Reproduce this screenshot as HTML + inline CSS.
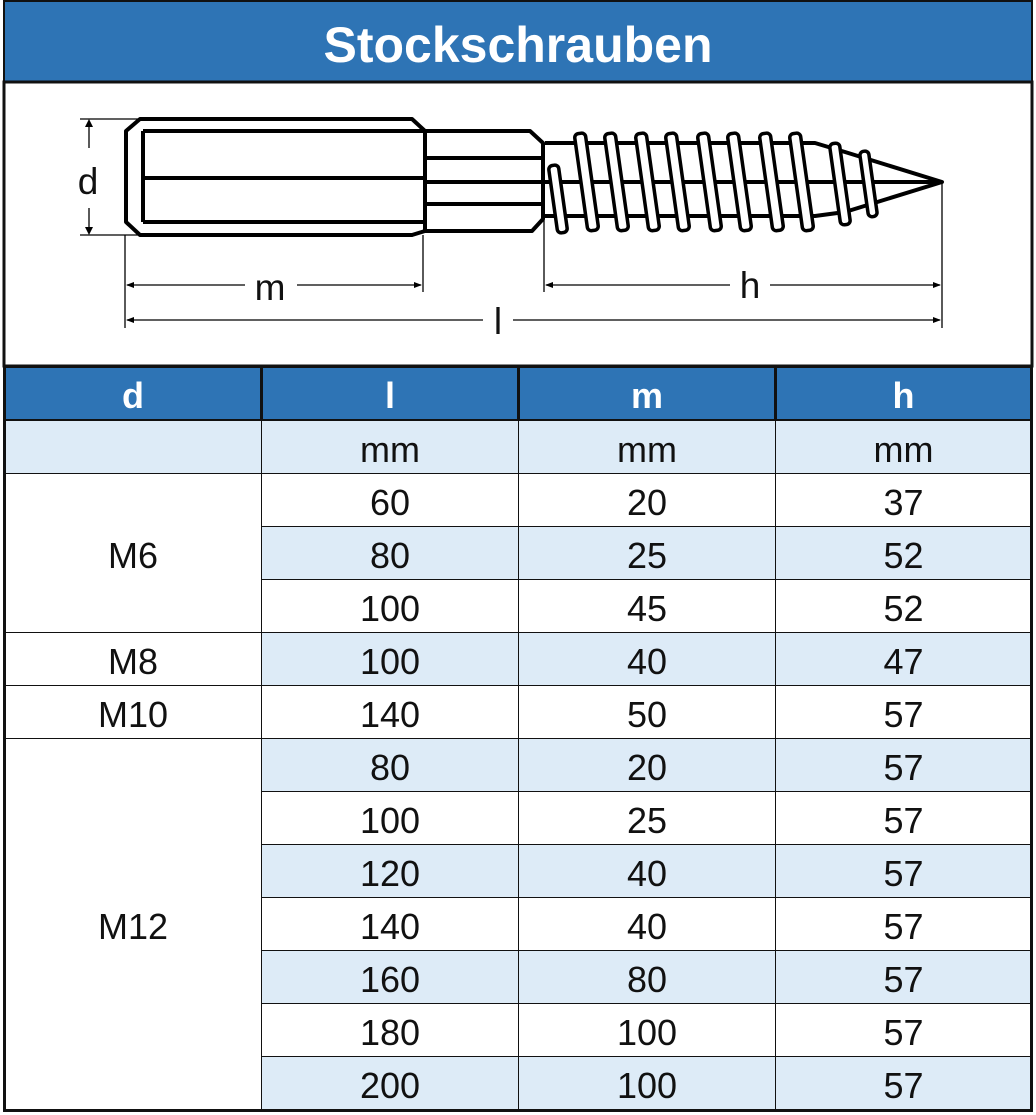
<!DOCTYPE html>
<html><head><meta charset="utf-8"><style>
body{margin:0;width:1036px;height:1115px;background:#fff;position:relative;font-family:"Liberation Sans",Arial,sans-serif;overflow:hidden}
.c{position:absolute;box-sizing:border-box;display:flex;align-items:center;justify-content:center;font-size:36px;color:#111;padding-top:5px}
</style></head><body>
<div class="c" style="left:3px;top:0;width:1030px;height:83px;background:#2E74B5;color:#fff;font-weight:bold;font-size:50px;border:2px solid #111;padding-top:6px">Stockschrauben</div>
<svg style="position:absolute;left:0;top:0" width="1036" height="1115">
<rect x="4" y="82" width="1028" height="284" fill="#fff" stroke="#111" stroke-width="3"/>
<g fill="none" stroke="#000" stroke-width="4" stroke-linejoin="round">
<path d="M140 119 H412 L425 131 V231 L412 235 H140 L126 222 V131 Z"/>
<line x1="143" y1="131" x2="143" y2="222"/>
<line x1="143" y1="131" x2="425" y2="131"/><line x1="143" y1="178" x2="425" y2="178"/><line x1="143" y1="222" x2="425" y2="222"/>
<path d="M425 131 H530 L543 143 V219 L532 231 H425"/>
<line x1="425" y1="158" x2="543" y2="158"/><line x1="425" y1="182" x2="543" y2="182"/><line x1="425" y1="204" x2="543" y2="204"/>
<path d="M545 143 H815 L845 152 L942 182 L845 212 L815 216 H545"/>
<line x1="545" y1="182" x2="942" y2="182"/>
</g>
<g fill="#fff" stroke="#000" stroke-width="3.5">
<rect x="553" y="165" width="10" height="68" rx="4" transform="rotate(-8 558 199)"/>
<rect x="581" y="133" width="11" height="98" rx="4" transform="rotate(-8 586 182)"/>
<rect x="611" y="133" width="11" height="98" rx="4" transform="rotate(-8 616 182)"/>
<rect x="642" y="133" width="11" height="98" rx="4" transform="rotate(-8 647 182)"/>
<rect x="672" y="133" width="11" height="98" rx="4" transform="rotate(-8 677 182)"/>
<rect x="704" y="133" width="11" height="98" rx="4" transform="rotate(-8 709 182)"/>
<rect x="734" y="133" width="11" height="98" rx="4" transform="rotate(-8 739 182)"/>
<rect x="766" y="133" width="11" height="98" rx="4" transform="rotate(-8 771 182)"/>
<rect x="796" y="133" width="11" height="98" rx="4" transform="rotate(-8 801 182)"/>
<rect x="835" y="143" width="10" height="82" rx="4" transform="rotate(-8 840 184)"/>
<rect x="864" y="151" width="9" height="66" rx="4" transform="rotate(-8 868 184)"/>
</g>
<g stroke="#000" stroke-width="1.3" fill="none">
<line x1="80" y1="119" x2="140" y2="119"/><line x1="80" y1="235" x2="140" y2="235"/>
<line x1="89" y1="121" x2="89" y2="148"/><line x1="89" y1="208" x2="89" y2="233"/>
<line x1="125" y1="235" x2="125" y2="328"/><line x1="423" y1="235" x2="423" y2="292"/>
<line x1="544" y1="220" x2="544" y2="292"/><line x1="942" y1="182" x2="942" y2="328"/>
<line x1="127" y1="285" x2="245" y2="285"/><line x1="297" y1="285" x2="421" y2="285"/>
<line x1="546" y1="285" x2="730" y2="285"/><line x1="770" y1="285" x2="940" y2="285"/>
<line x1="127" y1="320" x2="483" y2="320"/><line x1="513" y1="320" x2="940" y2="320"/>
</g>
<g fill="#000">
<path d="M89 119 l-4 8 h8z"/><path d="M89 235 l-4 -8 h8z"/>
<path d="M126 285 l8 -3 v6z"/><path d="M422 285 l-8 -3 v6z"/>
<path d="M545 285 l8 -3 v6z"/><path d="M941 285 l-8 -3 v6z"/>
<path d="M126 320 l8 -3 v6z"/><path d="M941 320 l-8 -3 v6z"/>
</g>
<g font-family="Liberation Sans,Arial,sans-serif" font-size="37" fill="#111" text-anchor="middle">
<text x="88" y="194">d</text><text x="270" y="300">m</text><text x="750" y="298">h</text><text x="498" y="334">l</text>
</g>
</svg>
<div id="t"></div>
<script>
var cols=[4,261,518,775,1031];
var h='';
function cell(c,r0,rs,txt,bg,style){var t=366+ (r0==0?0:54+(r0-1)*53);var hh=r0==0?54:53*rs;
h+='<div class="c" style="left:'+cols[c]+'px;top:'+t+'px;width:'+(cols[c+1]-cols[c]+1)+'px;height:'+(hh+1)+'px;background:'+bg+';border:'+(r0==0?'2px':'1.5px')+' solid #111;'+(style||'')+'">'+txt+'</div>';}
var H=['d','l','m','h'];
for(var i=0;i<4;i++)cell(i,0,1,H[i],'#2E74B5','color:#fff;font-weight:bold');
var L='#DDEBF7';
for(var i=0;i<4;i++)cell(i,1,1,i?'mm':'',L);
var rows=[[60,20,37],[80,25,52],[100,45,52],[100,40,47],[140,50,57],[80,20,57],[100,25,57],[120,40,57],[140,40,57],[160,80,57],[180,100,57],[200,100,57]];
var sh=[0,1,0,1,0,1,0,1,0,1,0,1];
cell(0,2,3,'M6','#fff');cell(0,5,1,'M8','#fff');cell(0,6,1,'M10','#fff');cell(0,7,7,'M12','#fff');
for(var r=0;r<12;r++)for(var c=0;c<3;c++)cell(c+1,r+2,1,rows[r][c],sh[r]?L:'#fff');
document.getElementById('t').innerHTML=h;
</script>
<div style="position:absolute;left:3px;top:365px;width:1030px;height:747px;border:3px solid #111;box-sizing:border-box;pointer-events:none"></div>
</body></html>
